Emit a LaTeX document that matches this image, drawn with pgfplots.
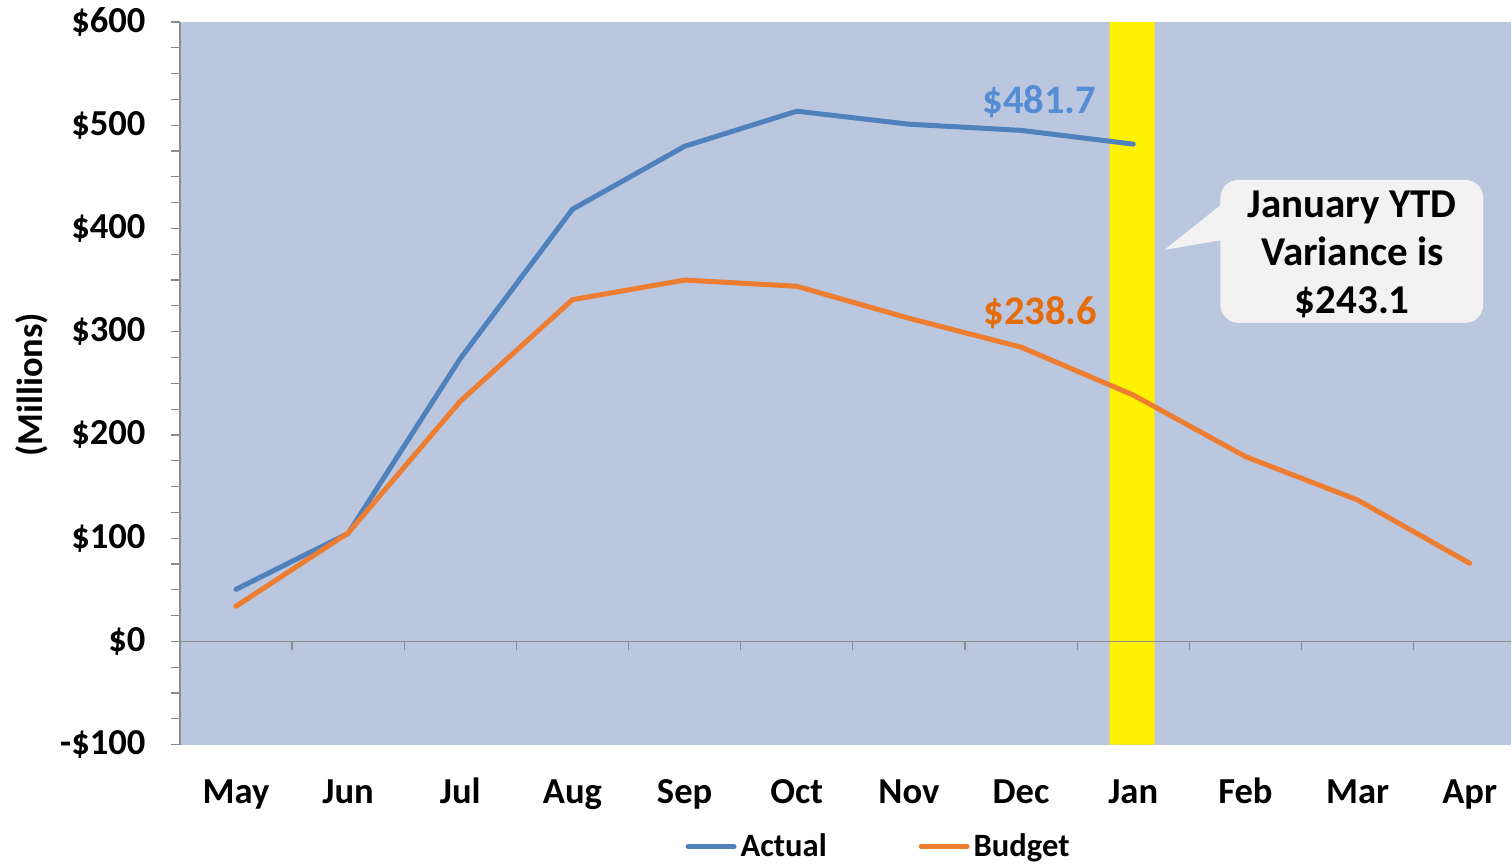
\documentclass[border=0pt]{standalone}
\usepackage{pgfplots}
\pgfplotsset{compat=1.18}
\usepackage{fontspec}
\setmainfont{Carlito}
\definecolor{bgc}{RGB}{187,198,223}
\definecolor{actc}{RGB}{79,129,189}
\definecolor{budc}{RGB}{237,125,49}
\definecolor{acttxt}{RGB}{84,141,212}
\definecolor{budtxt}{RGB}{228,108,10}
\definecolor{boxc}{RGB}{242,242,242}
\definecolor{axc}{RGB}{140,140,140}
\begin{document}
\begin{tikzpicture}
\begin{axis}[
  at={(0,0)}, anchor=south west,
  scale only axis, width=666pt, height=361.5pt,
  xmin=-0.5, xmax=11.37, ymin=-100, ymax=600,
  axis background/.style={fill=bgc},
  axis lines*=left,
  x axis line style={draw=none},
  y axis line style={axc, line width=0.8pt},
  xtick={0,...,11},
  xticklabels={May,Jun,Jul,Aug,Sep,Oct,Nov,Dec,Jan,Feb,Mar,Apr},
  xtick style={draw=none},
  ytick={-100,0,100,200,300,400,500,600},
  yticklabels={-\$100,\$0,\$100,\$200,\$300,\$400,\$500,\$600},
  minor y tick num=3,
  tick align=outside,
  major tick length=4.5pt, minor tick length=4.5pt,
  ytick style={axc, line width=0.6pt},
  minor y tick style={axc, line width=0.6pt},
  /pgf/number format/assume math mode=true,
  tick label style={font=\fontsize{18.3}{21}\selectfont\bfseries},
  yticklabel style={anchor=east, inner sep=0pt, xshift=-12.5pt},
  xticklabel style={anchor=base, inner sep=0pt, yshift=-25pt},
  clip=false,
  legend style={at={(350pt,-51pt)}, anchor=center, draw=none, fill=none,
     font=\fontsize{16.3}{19}\selectfont\bfseries, legend columns=2,
     /tikz/every even column/.append style={column sep=44pt},
     inner sep=0pt},
  legend image code/.code={\draw[#1, line width=2.5pt, line cap=round] (0pt,0pt) -- (23pt,0pt);},
  legend cell align=left,
]
\addplot[fill=yellow, draw=none, forget plot] coordinates {(7.79,-100) (8.19,-100) (8.19,600) (7.79,600)} \closedcycle;
\draw[axc, line width=0.8pt] (axis cs:-0.5,0) -- (axis cs:11.37,0);
\draw[axc, line width=0.6pt]
  (axis cs:0.5,0) -- ([yshift=-4.5pt]axis cs:0.5,0)
  (axis cs:1.5,0) -- ([yshift=-4.5pt]axis cs:1.5,0)
  (axis cs:2.5,0) -- ([yshift=-4.5pt]axis cs:2.5,0)
  (axis cs:3.5,0) -- ([yshift=-4.5pt]axis cs:3.5,0)
  (axis cs:4.5,0) -- ([yshift=-4.5pt]axis cs:4.5,0)
  (axis cs:5.5,0) -- ([yshift=-4.5pt]axis cs:5.5,0)
  (axis cs:6.5,0) -- ([yshift=-4.5pt]axis cs:6.5,0)
  (axis cs:7.5,0) -- ([yshift=-4.5pt]axis cs:7.5,0)
  (axis cs:8.5,0) -- ([yshift=-4.5pt]axis cs:8.5,0)
  (axis cs:9.5,0) -- ([yshift=-4.5pt]axis cs:9.5,0)
  (axis cs:10.5,0) -- ([yshift=-4.5pt]axis cs:10.5,0);
\addplot[actc, line width=2.5pt, line cap=round, line join=round] coordinates {
 (0,50.4) (1,104.6) (2,274) (3,418.6) (4,479.6) (5,513.6) (6,501) (7,495) (8,481.7)};
\addlegendentry{Actual}
\addplot[budc, line width=2.5pt, line cap=round, line join=round] coordinates {
 (0,34) (1,105) (2,232.6) (3,331) (4,350) (5,344) (6,313) (7,285) (8,238.6) (9,179) (10,137) (11,75.6)};
\addlegendentry{Budget}
\end{axis}
% annotations in pt relative to axis south-west corner (0.5pt per px)
\node[acttxt, font=\fontsize{20.3}{23}\selectfont\bfseries] at (430pt,321.5pt) {\$481.7};
\node[budtxt, font=\fontsize{20.3}{23}\selectfont\bfseries] at (430.5pt,216pt) {\$238.6};
\fill[boxc, rounded corners=9pt] (520.5pt,211pt) rectangle (652pt,282.5pt);
\fill[boxc] (522pt,271pt) -- (492.5pt,247.5pt) -- (522pt,252.5pt) -- cycle;
\node[align=center, font=\fontsize{20.5}{24}\selectfont\bfseries] at (586.5pt,245pt) {January YTD\\Variance is\\\$243.1};
\node[rotate=90, font=\fontsize{18.2}{21}\selectfont\bfseries] at (-74pt,180pt) {(Millions)};
\path[use as bounding box] (-90pt,-60pt) rectangle (666pt,372.5pt);
\end{tikzpicture}
\end{document}
